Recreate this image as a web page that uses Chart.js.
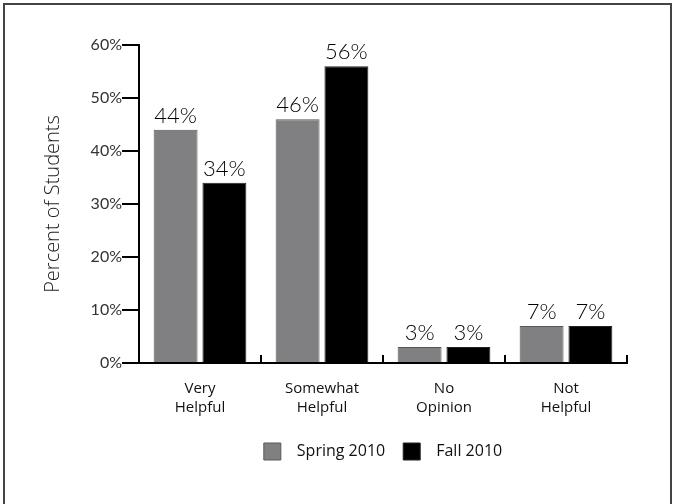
<!DOCTYPE html>
<html>
<head>
<meta charset="utf-8">
<script src="https://cdn.jsdelivr.net/npm/chart.js@4"></script>
<style>
  html, body { margin:0; padding:0; background:#fff; }
  #wrap { position:relative; width:674px; height:504px; overflow:hidden; }
  #frame { position:absolute; left:3px; top:3px; width:665px; height:520px;
           border:2px solid #444; border-bottom:none; pointer-events:none; }
  canvas { position:absolute; left:0; top:0; }
</style>
</head>
<body>
<div id="wrap">
  <canvas id="c" width="674" height="504"></canvas>
  <div id="frame"></div>
</div>
<script>
const categories = [["Very","Helpful"], ["Somewhat","Helpful"], ["No","Opinion"], ["Not","Helpful"]];
const seriesNames = ["Spring 2010", "Fall 2010"];
const spring2010 = [44, 46, 3, 7];
const fall2010 = [34, 56, 3, 7];
const yTicks = [0, 10, 20, 30, 40, 50, 60];

/* value labels above each bar */
const barLabels = {
  id: "barLabels",
  afterDatasetsDraw(chart){
    const ctx = chart.ctx;
    ctx.save();
    ctx.font = "300 22px Lato";
    ctx.fillStyle = "#000";
    ctx.textAlign = "center";
    ctx.textBaseline = "alphabetic";
    chart.data.datasets.forEach((ds, di) => {
      chart.getDatasetMeta(di).data.forEach((bar, i) => {
        ctx.fillText(ds.data[i] + "%", bar.x, bar.y - 7);
      });
    });
    ctx.restore();
  }
};

/* short upward ticks between categories on the x axis */
const innerTicks = {
  id: "innerTicks",
  afterDraw(chart){
    const x = chart.scales.x, ctx = chart.ctx;
    ctx.save();
    ctx.strokeStyle = "#000";
    ctx.lineWidth = 2;
    for(let i = 1; i <= categories.length; i++){
      const px = Math.round(x.getPixelForValue(i - 0.5));
      ctx.beginPath();
      ctx.moveTo(px, x.top);
      ctx.lineTo(px, x.top - 8);
      ctx.stroke();
    }
    ctx.restore();
  }
};

new Chart(document.getElementById("c"), {
  type: "bar",
  data: {
    labels: categories,
    datasets: [
      { label: seriesNames[0], data: spring2010, backgroundColor: "#808083", borderColor: "#58585a", borderWidth: 1 },
      { label: seriesNames[1], data: fall2010, backgroundColor: "#000", borderColor: "#222", borderWidth: 1 }
    ]
  },
  options: {
    responsive: false,
    animation: false,
    categoryPercentage: 0.8,
    barPercentage: 0.9,
    layout: { padding: { left: 0, right: 47, top: 45, bottom: 34 } },
    plugins: {
      tooltip: { enabled: false },
      legend: {
        position: "bottom",
        fullSize: false,
        labels: {
          boxWidth: 17, boxHeight: 17, padding: 18,
          color: "#111",
          font: { family: "Open Sans", size: 16 },
          generateLabels: chart => Chart.defaults.plugins.legend.labels.generateLabels(chart)
            .map(l => Object.assign(l, { text: "\u2002" + l.text }))
        }
      }
    },
    scales: {
      x: {
        afterFit: s => { s.height = 62; },
        border: { display: true, color: "#000", width: 2 },
        grid: { display: false },
        ticks: { color: "#111", padding: 9, font: { family: "Open Sans", size: 15, lineHeight: 1.23 } }
      },
      y: {
        min: 0, max: 60,
        afterFit: s => { s.width = 139; },
        afterBuildTicks: s => { s.ticks = yTicks.map(v => ({ value: v })); },
        border: { display: true, color: "#000", width: 2 },
        grid: { drawOnChartArea: false, drawTicks: true, tickLength: 17, color: "#000", lineWidth: 2 },
        ticks: { color: "#333", padding: 0, font: { family: "Lato", size: 16 }, callback: v => v + "%" },
        title: {
          display: true, text: "Percent of Students", color: "#222",
          font: { family: "Open Sans", size: 20, weight: "300" }, padding: { top: 41, bottom: 0 }
        }
      }
    }
  },
  plugins: [barLabels, innerTicks]
});
</script>
</body>
</html>
